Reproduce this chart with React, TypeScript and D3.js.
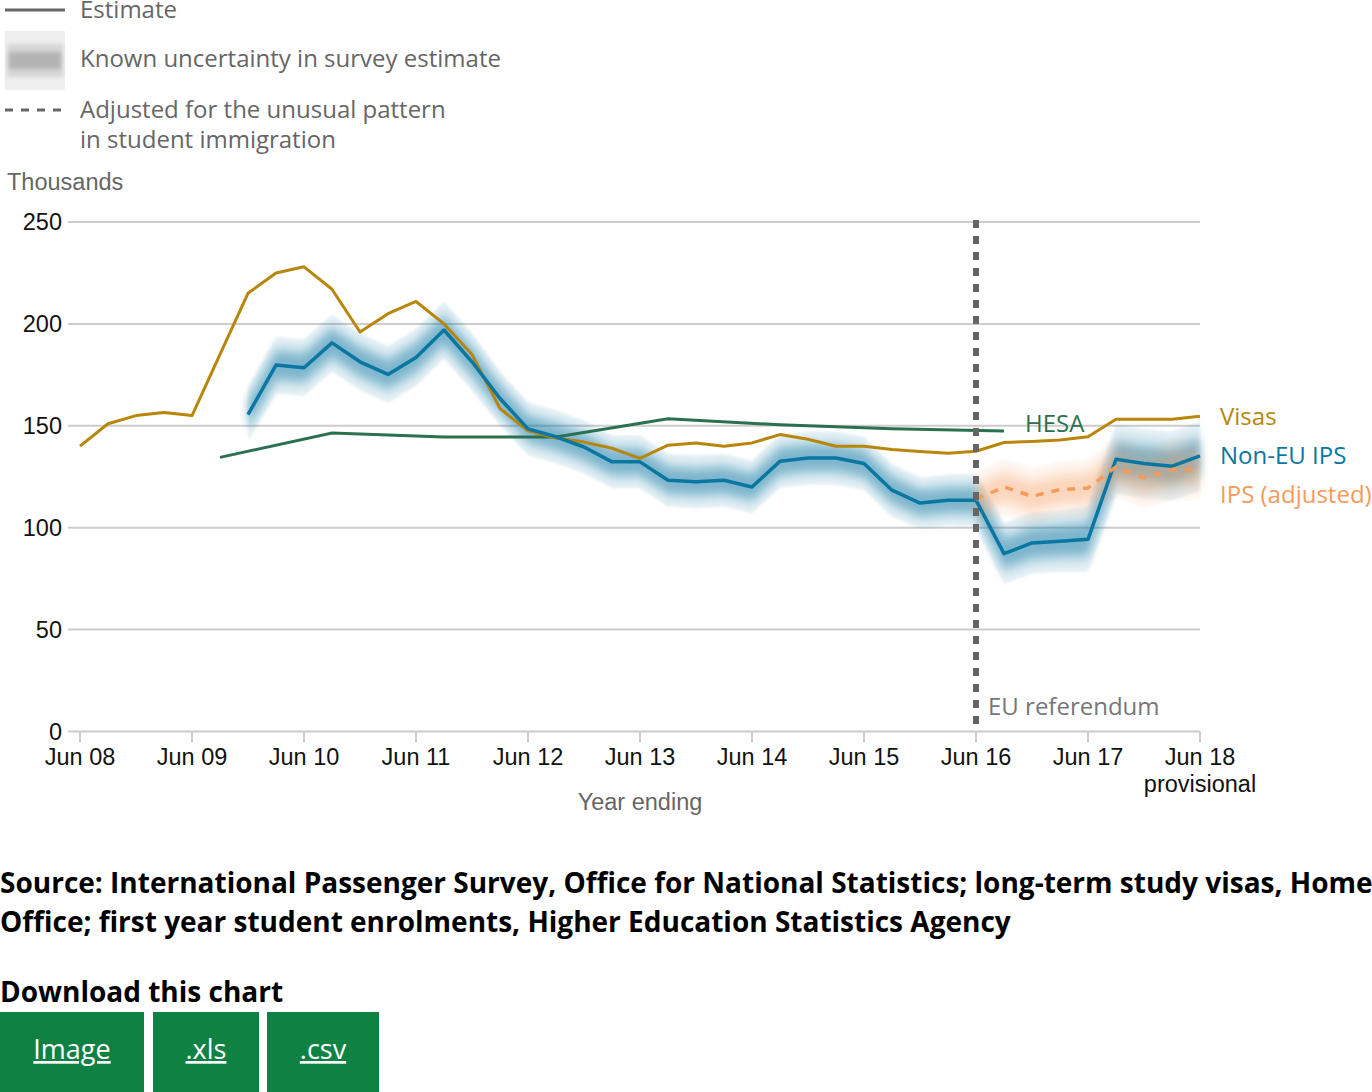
import { useEffect, useRef } from "react";
import * as d3 from "d3";

// quarter index 0 = year ending Jun 08, 40 = Jun 18
const xTickLabels = ["Jun 08", "Jun 09", "Jun 10", "Jun 11", "Jun 12", "Jun 13", "Jun 14", "Jun 15", "Jun 16", "Jun 17", "Jun 18"];
const yTicks = [0, 50, 100, 150, 200, 250];

const visasStart = 0;
const visas = [140, 151, 155, 156.5, 155, 185, 215, 225, 228, 217, 196, 205, 211, 200, 185, 158.5, 147.5, 144, 142, 139,
  134, 140.5, 141.6, 140, 141.6, 145.7, 143.4, 140, 140, 138.4, 137.4, 136.5, 137.5, 141.8, 142.3, 143, 144.6, 153.2, 153.2, 153.2, 154.7];

const nonEuStart = 6;
const nonEu = [155.5, 179.8, 178.5, 190.7, 181.4, 175.2, 183.5, 197, 181.4, 163.4, 148.5, 144.6, 139.6, 132.3, 132.3,
  123.3, 122.5, 123.3, 120, 132.6, 134.2, 134.2, 131.5, 118.4, 112.1, 113.5, 113.5, 87.3, 92.5, 93.3, 94.3, 133.6, 131.5, 130.2, 135.2];
const nonEuCI = [13, 14, 14, 14, 14, 14, 14, 14, 14, 13, 13, 13, 13, 13, 13,
  13, 13, 13, 13, 13, 13, 13, 13, 13, 12.5, 12.5, 13, 15, 15, 15, 16, 17, 17, 17, 17];

const hesaQ = [5, 9, 13, 17, 21, 25, 29, 33];
const hesa = [134.5, 146.5, 144.5, 144.5, 153.5, 150.5, 148.5, 147.5];

const adjStart = 32;
const ipsAdj = [114, 120, 115.4, 118.7, 119.5, 129.8, 124.4, 128.5, 128.5];
const ipsAdjCI = [13, 14, 14, 14, 14, 15, 15, 15, 15];

const referendumQ = 32;

const C_VISA = "#b8860b";
const C_BLUE = "#0a76a2";
const C_GREEN = "#2a7150";
const C_ORANGE = "#f79a5a";
const SANS = "'Liberation Sans', Arial, sans-serif";
const OPEN = "'Open Sans', sans-serif";

interface P { q: number; v: number; ci: number }

export default function App() {
  const ref = useRef<SVGSVGElement>(null);

  useEffect(() => {
    document.body.style.margin = "0";
    if (!ref.current) return;
    const W = 1372, H = 1092;
    const svg = d3.select(ref.current).attr("width", W).attr("height", H);
    svg.selectAll("*").remove();

    const x = d3.scaleLinear().domain([0, 40]).range([80, 1200]);
    const y = d3.scaleLinear().domain([0, 250]).range([731.5, 222]);

    const defs = svg.append("defs");
    [["blur1", 1], ["blur2", 2], ["blur4", 4], ["blur6", 6]].forEach(([id, s]) => {
      defs.append("filter").attr("id", id as string)
        .attr("x", "-20%").attr("y", "-50%").attr("width", "140%").attr("height", "200%")
        .append("feGaussianBlur").attr("stdDeviation", s as number);
    });

    // Legend
    const lg = svg.append("g");
    lg.append("line").attr("x1", 5).attr("x2", 65).attr("y1", 10).attr("y2", 10)
      .attr("stroke", "#666").attr("stroke-width", 3);
    lg.append("rect").attr("x", 5).attr("y", 31).attr("width", 60).attr("height", 59).attr("fill", "#efefef");
    lg.append("rect").attr("x", 7).attr("y", 44).attr("width", 56).attr("height", 33).attr("fill", "#d6d6d6")
      .attr("filter", "url(#blur2)");
    lg.append("rect").attr("x", 9).attr("y", 52).attr("width", 52).attr("height", 17).attr("fill", "#b3b3b3")
      .attr("filter", "url(#blur2)");
    lg.append("line").attr("x1", 5).attr("x2", 65).attr("y1", 110).attr("y2", 110)
      .attr("stroke", "#666").attr("stroke-width", 3).attr("stroke-dasharray", "8 8");
    const legTexts: [string, number][] = [
      ["Estimate", 18], ["Known uncertainty in survey estimate", 67],
      ["Adjusted for the unusual pattern", 118], ["in student immigration", 148],
    ];
    legTexts.forEach(([t, yy]) => {
      lg.append("text").attr("x", 80).attr("y", yy).attr("font-family", OPEN).attr("font-size", 24)
        .attr("fill", "#666").text(t);
    });

    svg.append("text").attr("x", 7).attr("y", 190).attr("font-family", SANS).attr("font-size", 23.5)
      .attr("fill", "#666").text("Thousands");

    // Grid + y labels
    yTicks.forEach(v => {
      svg.append("line").attr("x1", 68).attr("x2", 1200).attr("y1", y(v)).attr("y2", y(v))
        .attr("stroke", "#ccc").attr("stroke-width", 2);
      svg.append("text").attr("x", 62).attr("y", y(v) + 8).attr("text-anchor", "end")
        .attr("font-family", SANS).attr("font-size", 23.5).attr("fill", "#111").text(v);
    });

    // x ticks
    xTickLabels.forEach((lab, i) => {
      const xx = x(i * 4);
      svg.append("line").attr("x1", xx).attr("x2", xx).attr("y1", y(0)).attr("y2", y(0) + 11)
        .attr("stroke", "#ccc").attr("stroke-width", 2);
      svg.append("text").attr("x", xx).attr("y", 765).attr("text-anchor", "middle")
        .attr("font-family", SANS).attr("font-size", 23.5).attr("fill", "#111").text(lab);
    });
    svg.append("text").attr("x", x(40)).attr("y", 792).attr("text-anchor", "middle")
      .attr("font-family", SANS).attr("font-size", 23.5).attr("fill", "#111").text("provisional");
    svg.append("text").attr("x", x(20)).attr("y", 810).attr("text-anchor", "middle")
      .attr("font-family", SANS).attr("font-size", 23.5).attr("fill", "#666").text("Year ending");

    const toPts = (start: number, vals: number[], ci?: number[]): P[] =>
      vals.map((v, i) => ({ q: start + i, v, ci: ci ? ci[i] : 0 }));

    const line = d3.line<P>().x(d => x(d.q)).y(d => y(d.v));
    const band = (k: number) => d3.area<P>().x(d => x(d.q)).y0(d => y(d.v - d.ci * k)).y1(d => y(d.v + d.ci * k));

    const drawBand = (pts: P[], color: string, strength: number) => {
      const bg = svg.append("g");
      bg.append("path").datum(pts).attr("d", band(1)).attr("fill", color).attr("opacity", 0.09 * strength)
        .attr("filter", "url(#blur1)");
      bg.append("path").datum(pts).attr("d", band(0.75)).attr("fill", color).attr("opacity", 0.16 * strength)
        .attr("filter", "url(#blur4)");
      bg.append("path").datum(pts).attr("d", band(0.45)).attr("fill", color).attr("opacity", 0.38 * strength)
        .attr("filter", "url(#blur4)");
    };

    const nonEuPts = toPts(nonEuStart, nonEu, nonEuCI);
    const adjPts = toPts(adjStart, ipsAdj, ipsAdjCI);
    drawBand(nonEuPts, C_BLUE, 1);
    drawBand(adjPts, C_ORANGE, 0.7);

    // HESA
    const hesaPts: P[] = hesa.map((v, i) => ({ q: hesaQ[i], v, ci: 0 }));
    svg.append("path").datum(hesaPts).attr("d", line).attr("fill", "none")
      .attr("stroke", C_GREEN).attr("stroke-width", 3);

    // Visas
    svg.append("path").datum(toPts(visasStart, visas)).attr("d", line).attr("fill", "none")
      .attr("stroke", C_VISA).attr("stroke-width", 3).attr("stroke-linejoin", "round");

    // Non-EU IPS
    svg.append("path").datum(nonEuPts).attr("d", line).attr("fill", "none")
      .attr("stroke", C_BLUE).attr("stroke-width", 3.5).attr("stroke-linejoin", "round");

    // IPS adjusted
    svg.append("path").datum(adjPts).attr("d", line).attr("fill", "none")
      .attr("stroke", C_ORANGE).attr("stroke-width", 3.5).attr("stroke-dasharray", "8 8");

    // Referendum marker
    svg.append("line").attr("x1", x(referendumQ)).attr("x2", x(referendumQ))
      .attr("y1", 220).attr("y2", y(0)).attr("stroke", "#666").attr("stroke-width", 6)
      .attr("stroke-dasharray", "8 8");
    svg.append("text").attr("x", x(referendumQ) + 12).attr("y", 715).attr("font-family", OPEN)
      .attr("font-size", 24).attr("fill", "#777").text("EU referendum");

    // Series labels
    const labs: [string, number, number, string][] = [
      ["HESA", 1025, 432, C_GREEN], ["Visas", 1220, 425, C_VISA],
      ["Non-EU IPS", 1220, 464, C_BLUE], ["IPS (adjusted)", 1220, 503, C_ORANGE],
    ];
    labs.forEach(([t, xx, yy, c]) => {
      svg.append("text").attr("x", xx).attr("y", yy).attr("font-family", OPEN).attr("font-size", 24)
        .attr("fill", c).text(t);
    });

    // Footer
    const src = ["Source: International Passenger Survey, Office for National Statistics; long-term study visas, Home",
      "Office; first year student enrolments, Higher Education Statistics Agency"];
    src.forEach((t, i) => {
      svg.append("text").attr("x", 0).attr("y", 893 + i * 39).attr("font-family", OPEN)
        .attr("font-weight", 700).attr("font-size", 28).attr("fill", "#000").text(t);
    });
    svg.append("text").attr("x", 0).attr("y", 1002).attr("font-family", OPEN)
      .attr("font-weight", 700).attr("font-size", 28).attr("fill", "#000").text("Download this chart");

    const btns: [string, number, number][] = [["Image", 0, 144], [".xls", 153, 106], [".csv", 267, 112]];
    btns.forEach(([t, bx, bw]) => {
      svg.append("rect").attr("x", bx).attr("y", 1012).attr("width", bw).attr("height", 80).attr("fill", "#0f8243");
      svg.append("text").attr("x", bx + bw / 2).attr("y", 1059).attr("text-anchor", "middle")
        .attr("font-family", OPEN).attr("font-size", 27).attr("fill", "#fff")
        .attr("text-decoration", "underline").text(t);
    });
  }, []);

  return <svg ref={ref} style={{ display: "block" }} />;
}
